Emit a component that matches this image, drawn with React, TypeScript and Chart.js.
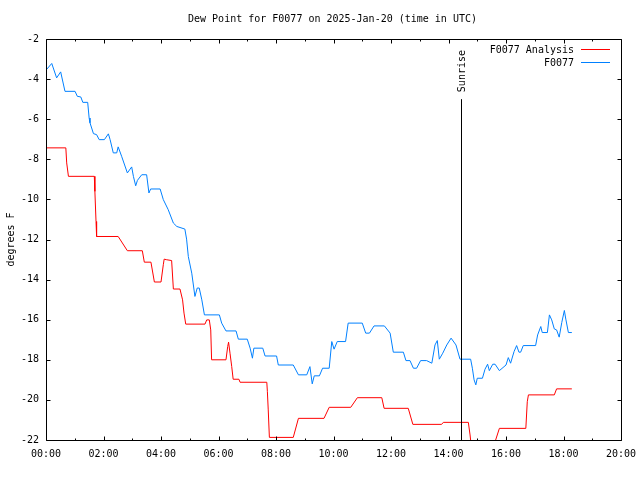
import React, { useEffect, useRef } from "react";
import { Chart, registerables } from "chart.js";

Chart.register(...registerables);

const chartTitle = "Dew Point for F0077 on 2025-Jan-20 (time in UTC)";
const yAxisTitle = "degrees F";
const analysisLabel = "F0077 Analysis";
const obsLabel = "F0077";
const sunriseLabel = "Sunrise";

const xTickHours = [0, 2, 4, 6, 8, 10, 12, 14, 16, 18, 20];
const yTickValues = [-22, -20, -18, -16, -14, -12, -10, -8, -6, -4, -2];
const sunriseHour = 14.45;
const sunriseTop = -5;

const obsHours = [
  0.02, 0.2, 0.37, 0.51, 0.66, 1.01, 1.09, 1.21, 1.28, 1.45, 1.5, 1.53, 1.65, 1.76, 1.85, 2.03, 2.17, 2.23, 2.34,
  2.46, 2.51, 2.63, 2.83, 2.98, 3.04, 3.12, 3.18, 3.33, 3.5, 3.58, 3.64, 3.97, 4.08, 4.25, 4.43, 4.55, 4.83, 4.89,
  4.95, 5.07, 5.18, 5.26, 5.33, 5.42, 5.51, 6.03, 6.11, 6.26, 6.61, 6.69, 7.0, 7.1, 7.18, 7.23, 7.54, 7.62, 8.02,
  8.08, 8.6, 8.78, 9.07, 9.18, 9.26, 9.33, 9.51, 9.62, 9.85, 9.94, 10.02, 10.13, 10.42, 10.51, 11.0, 11.12, 11.25,
  11.41, 11.77, 11.97, 12.08, 12.43, 12.52, 12.66, 12.78, 12.89, 13.03, 13.24, 13.42, 13.53, 13.61, 13.68, 13.8,
  13.94, 14.09, 14.26, 14.4, 14.77, 14.83, 14.89, 14.95, 15.0, 15.18, 15.27, 15.36, 15.42, 15.54, 15.62, 15.77,
  16.0, 16.08, 16.16, 16.28, 16.37, 16.45, 16.51, 16.6, 17.03, 17.1, 17.21, 17.26, 17.44, 17.51, 17.59, 17.68,
  17.76, 17.85, 17.94, 18.03, 18.08, 18.17, 18.29,
];
const obsValues = [
  -3.52, -3.22, -3.94, -3.64, -4.61, -4.61, -4.86, -4.89, -5.16, -5.16, -5.94, -6.18, -6.72, -6.77, -7.02, -7.02,
  -6.73, -7.02, -7.68, -7.68, -7.38, -7.85, -8.68, -8.38, -8.85, -9.32, -9.05, -8.77, -8.77, -9.68, -9.48, -9.48,
  -10.01, -10.51, -11.18, -11.35, -11.48, -11.98, -12.85, -13.68, -14.84, -14.42, -14.42, -15.01, -15.76, -15.76,
  -16.17, -16.56, -16.56, -16.97, -16.97, -17.42, -17.92, -17.42, -17.42, -17.81, -17.81, -18.26, -18.26, -18.75,
  -18.75, -18.34, -19.2, -18.8, -18.8, -18.42, -18.42, -17.09, -17.47, -17.09, -17.09, -16.17, -16.17, -16.67,
  -16.67, -16.31, -16.31, -16.67, -17.62, -17.62, -18.04, -18.04, -18.42, -18.42, -18.04, -18.04, -18.17, -17.26,
  -17.04, -17.97, -17.67, -17.26, -16.92, -17.26, -17.97, -17.97, -18.42, -19.0, -19.25, -18.92, -18.92, -18.47,
  -18.22, -18.54, -18.22, -18.22, -18.54, -18.26, -17.89, -18.17, -17.59, -17.29, -17.62, -17.62, -17.29, -17.29,
  -16.76, -16.34, -16.64, -16.64, -15.76, -16.01, -16.46, -16.51, -16.87, -16.14, -15.54, -15.97, -16.64, -16.64,
];

const analysisHours = [
  0.02, 0.69, 0.72, 0.78, 1.68, 1.7, 1.74, 1.76, 2.51, 2.83, 3.35, 3.42, 3.65, 3.77, 4.0, 4.08, 4.11, 4.2, 4.37,
  4.43, 4.66, 4.75, 4.8, 4.86, 5.53, 5.59, 5.68, 5.73, 5.76, 6.26, 6.32, 6.35, 6.4, 6.46, 6.51, 6.71, 6.75, 7.68,
  7.7, 7.73, 7.77, 8.6, 8.78, 9.67, 9.85, 10.6, 10.83, 11.68, 11.76, 12.6, 12.76, 13.76, 13.82, 14.69, 14.75, 14.8,
  15.55, 15.77, 16.69, 16.74, 16.78, 17.68, 17.76, 18.29,
];
const analysisValues = [
  -7.43, -7.43, -8.18, -8.85, -8.85, -9.6, -11.1, -11.85, -11.85, -12.56, -12.56, -13.13, -13.13, -14.12, -14.12,
  -13.26, -12.98, -13.01, -13.05, -14.47, -14.47, -15.01, -15.67, -16.22, -16.22, -16.01, -16.01, -16.51, -18.0,
  -18.0, -17.34, -17.12, -17.67, -18.34, -18.97, -18.97, -19.12, -19.12, -19.59, -20.5, -21.87, -21.87, -20.92,
  -20.92, -20.37, -20.37, -19.89, -19.89, -20.42, -20.42, -21.22, -21.22, -21.12, -21.12, -21.75, -22.4, -22.4,
  -21.42, -21.42, -20.09, -19.75, -19.75, -19.45, -19.45,
];

const FONT = "'DejaVu Sans Mono', 'Liberation Mono', monospace";
const RED = "#ff0000";
const BLUE = "#0080ff";

const fmtHour = (v: number) => `${String(v).padStart(2, "0")}:00`;

const gnuplotPlugin = {
  id: "gnuplotFrame",
  afterDraw(chart: any) {
    const { ctx, chartArea: a, scales } = chart;
    const xs = scales.x;
    const ys = scales.y;
    const L = Math.floor(a.left) + 0.5;
    const R = Math.floor(a.right) + 0.5;
    const T = Math.floor(a.top) + 0.5;
    const B = Math.floor(a.bottom) + 0.5;
    ctx.save();
    ctx.strokeStyle = "#000";
    ctx.lineWidth = 1;
    ctx.beginPath();
    ctx.rect(L, T, R - L, B - T);
    for (let i = 0; i < xTickHours.length; i++) {
      const h = xTickHours[i];
      const px = Math.round(xs.getPixelForValue(h)) + 0.5;
      ctx.moveTo(px, B);
      ctx.lineTo(px, B - 4);
      ctx.moveTo(px, T);
      ctx.lineTo(px, T + 4);
      if (i < xTickHours.length - 1) {
        const mh = (h + xTickHours[i + 1]) / 2;
        const mx = Math.round(xs.getPixelForValue(mh)) + 0.5;
        ctx.moveTo(mx, B);
        ctx.lineTo(mx, B - 2);
        ctx.moveTo(mx, T);
        ctx.lineTo(mx, T + 2);
      }
    }
    for (const v of yTickValues) {
      const py = Math.round(ys.getPixelForValue(v)) + 0.5;
      ctx.moveTo(L, py);
      ctx.lineTo(L + 4, py);
      ctx.moveTo(R, py);
      ctx.lineTo(R - 4, py);
    }
    const sx = Math.round(xs.getPixelForValue(sunriseHour)) + 0.5;
    const sTop = ys.getPixelForValue(sunriseTop);
    ctx.moveTo(sx, sTop);
    ctx.lineTo(sx, B);
    ctx.stroke();

    ctx.fillStyle = "#000";
    ctx.font = `10px ${FONT}`;
    ctx.save();
    ctx.translate(sx + 1, sTop - 7);
    ctx.rotate(-Math.PI / 2);
    ctx.textAlign = "left";
    ctx.textBaseline = "middle";
    ctx.fillText(sunriseLabel, 0, 0);
    ctx.restore();

    ctx.textAlign = "center";
    ctx.textBaseline = "middle";
    ctx.fillText(chartTitle, (a.left + a.right) / 2 - 1, 19);

    const rows = [
      { label: analysisLabel, color: RED, y: a.top + 10 },
      { label: obsLabel, color: BLUE, y: a.top + 23 },
    ];
    for (const r of rows) {
      ctx.fillStyle = "#000";
      ctx.textAlign = "right";
      ctx.textBaseline = "middle";
      ctx.fillText(r.label, a.right - 47, r.y + 1);
      ctx.strokeStyle = r.color;
      ctx.beginPath();
      ctx.moveTo(a.right - 40, Math.round(r.y) + 0.5);
      ctx.lineTo(a.right - 11, Math.round(r.y) + 0.5);
      ctx.stroke();
    }
    ctx.restore();
  },
};

export default function App() {
  const ref = useRef<HTMLCanvasElement | null>(null);
  useEffect(() => {
    const canvas = ref.current;
    if (!canvas) return;
    const chart = new Chart(canvas, {
      type: "line",
      data: {
        datasets: [
          {
            label: analysisLabel,
            data: analysisHours.map((h, i) => ({ x: h, y: analysisValues[i] })),
            borderColor: RED,
            backgroundColor: RED,
            borderWidth: 1,
            pointRadius: 0,
            tension: 0,
            fill: false,
          },
          {
            label: obsLabel,
            data: obsHours.map((h, i) => ({ x: h, y: obsValues[i] })),
            borderColor: BLUE,
            backgroundColor: BLUE,
            borderWidth: 1,
            pointRadius: 0,
            tension: 0,
            fill: false,
          },
        ],
      },
      options: {
        responsive: false,
        animation: false,
        devicePixelRatio: 1,
        layout: { padding: { top: 39, right: 19, left: 0, bottom: 0 } },
        plugins: {
          legend: { display: false },
          title: { display: false },
          tooltip: { enabled: false },
        },
        scales: {
          x: {
            type: "linear",
            min: 0,
            max: 20,
            afterBuildTicks: (s: any) => {
              s.ticks = xTickHours.map((v) => ({ value: v }));
            },
            afterFit: (s: any) => {
              s.height = 40;
            },
            ticks: {
              callback: (v: any) => fmtHour(Number(v)),
              font: { family: FONT, size: 10 },
              color: "#000",
              padding: 0,
              maxRotation: 0,
              autoSkip: false,
            },
            grid: { display: false, drawTicks: true, tickLength: 8 },
            border: { display: false },
          },
          y: {
            type: "linear",
            min: -22,
            max: -2,
            afterBuildTicks: (s: any) => {
              s.ticks = yTickValues.map((v) => ({ value: v }));
            },
            afterFit: (s: any) => {
              s.width = 46;
            },
            ticks: {
              font: { family: FONT, size: 10 },
              color: "#000",
              padding: 7,
              autoSkip: false,
            },
            grid: { display: false, drawTicks: false },
            border: { display: false },
            title: {
              display: true,
              text: yAxisTitle,
              font: { family: FONT, size: 10 },
              color: "#000",
              padding: { top: 5, bottom: 0 },
            },
          },
        },
      },
      plugins: [gnuplotPlugin],
    } as any);
    return () => chart.destroy();
  }, []);
  return (
    <div style={{ position: "fixed", left: 0, top: 0, width: 640, height: 480, background: "#fff" }}>
      <canvas ref={ref} width={640} height={480} style={{ width: 640, height: 480, display: "block" }} />
    </div>
  );
}
